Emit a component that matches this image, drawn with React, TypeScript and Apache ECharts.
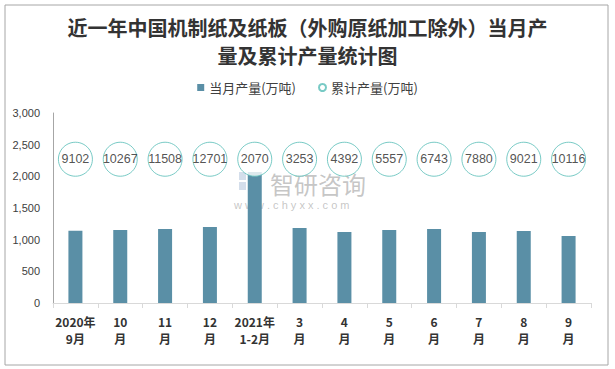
import React, { useEffect, useRef } from "react";
import * as echarts from "echarts";

const categories = [
  "2020年\n9月", "10\n月", "11\n月", "12\n月", "2021年\n1-2月", "3\n月",
  "4\n月", "5\n月", "6\n月", "7\n月", "8\n月", "9\n月",
];
const monthly = [1140, 1152, 1167, 1199, 2070, 1183, 1120, 1152, 1167, 1120, 1136, 1057];
const cumulative = [9102, 10267, 11508, 12701, 2070, 3253, 4392, 5557, 6743, 7880, 9021, 10116];
const yTicks = [0, 500, 1000, 1500, 2000, 2500, 3000];

const CIRCLE_LEVEL = 2270;

export default function App() {
  const ref = useRef<HTMLDivElement>(null);
  useEffect(() => {
    if (!ref.current) return;
    const chart = echarts.init(ref.current, undefined, { renderer: "svg" });
    chart.setOption({
      animation: false,
      backgroundColor: "#fff",
      title: {
        text: "近一年中国机制纸及纸板（外购原纸加工除外）当月产\n量及累计产量统计图",
        left: "center",
        top: 8,
        textStyle: {
          fontFamily: "Noto Sans CJK SC",
          fontSize: 20,
          fontWeight: "bold",
          color: "#333",
          lineHeight: 28,
        },
      },
      legend: {
        top: 76,
        left: "center",
        itemWidth: 7,
        itemHeight: 7,
        itemGap: 22,
        textStyle: { fontFamily: "Noto Sans CJK SC", fontSize: 13, color: "#404040" },
        data: [
          { name: "当月产量(万吨)", icon: "rect" },
          { name: "累计产量(万吨)", icon: "circle" },
        ],
      },
      grid: { left: 53, right: 24, top: 113, bottom: 66 },
      xAxis: {
        type: "category",
        data: categories,
        axisLine: { lineStyle: { color: "#d9d9d9" } },
        axisTick: { show: true, length: 5, lineStyle: { color: "#d9d9d9" } },
        axisLabel: {
          interval: 0,
          margin: 10,
          fontFamily: "Noto Sans CJK SC",
          fontSize: 12,
          fontWeight: "bold",
          color: "#333",
          lineHeight: 17,
        },
      },
      yAxis: {
        type: "value",
        min: yTicks[0],
        max: yTicks[yTicks.length - 1],
        interval: 500,
        axisLine: { show: true, lineStyle: { color: "#a6a6a6" } },
        axisTick: { show: false },
        splitLine: { show: false },
        axisLabel: {
          margin: 13,
          fontFamily: "Liberation Sans",
          fontSize: 11,
          color: "#404040",
          formatter: (v: number) => v.toLocaleString("en-US"),
        },
      },
      graphic: [
        {
          type: "rect",
          shape: { x: 5, y: 5, width: 603, height: 360 },
          style: { fill: "none", stroke: "#a6a6a6", lineWidth: 1 },
          z: 100,
        },
        {
          type: "group",
          z: 50,
          children: [
            { type: "rect", shape: { x: 239, y: 172, width: 7, height: 8 }, style: { fill: "rgba(170,190,215,0.5)" } },
            { type: "rect", shape: { x: 248, y: 172, width: 7, height: 8 }, style: { fill: "rgba(170,190,215,0.5)" } },
            { type: "rect", shape: { x: 239, y: 182, width: 7, height: 8 }, style: { fill: "rgba(170,190,215,0.5)" } },
            { type: "rect", shape: { x: 248, y: 182, width: 7, height: 8 }, style: { fill: "rgba(190,210,230,0.5)" } },
            {
              type: "text",
              x: 270,
              y: 183,
              style: {
                text: "智研咨询",
                font: "24px 'Noto Sans CJK SC'",
                fill: "rgba(160,160,160,0.6)",
                textVerticalAlign: "middle",
              },
            },
            {
              type: "text",
              x: 234,
              y: 205,
              style: {
                text: "w w w . c h y x x . c o m",
                font: "11px 'Liberation Sans'",
                fill: "rgba(160,160,160,0.6)",
                textVerticalAlign: "middle",
              },
            },
          ],
        },
      ],
      series: [
        {
          name: "当月产量(万吨)",
          type: "bar",
          data: monthly,
          barWidth: 14,
          itemStyle: { color: "#5a8fa6" },
          z: 2,
        },
        {
          name: "累计产量(万吨)",
          type: "scatter",
          data: cumulative.map(() => CIRCLE_LEVEL),
          symbol: "circle",
          symbolSize: 34,
          itemStyle: { color: "#fff", borderColor: "#56bdb6", borderWidth: 1 },
          label: {
            show: true,
            position: "inside",
            fontFamily: "Liberation Sans",
            fontSize: 12.5,
            color: "#262626",
            formatter: (p: any) => String(cumulative[p.dataIndex]),
          },
          z: 3,
        },
      ],
    });
    return () => chart.dispose();
  }, []);
  return (
    <div
      ref={ref}
      style={{ position: "fixed", left: 0, top: 0, width: 615, height: 369 }}
    />
  );
}
